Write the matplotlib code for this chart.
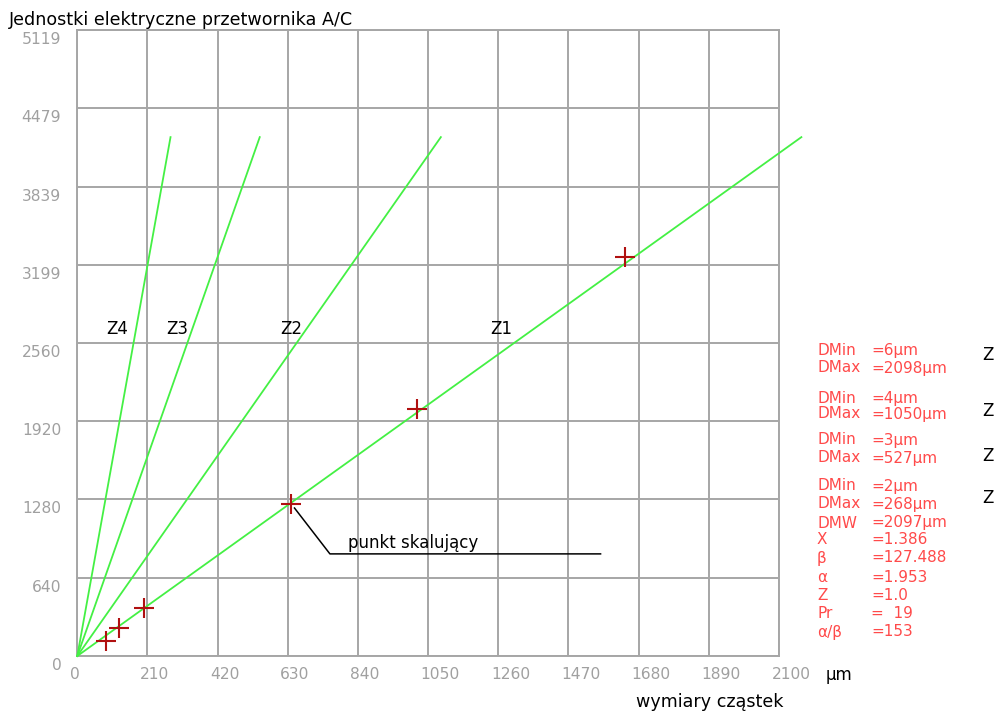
import matplotlib
matplotlib.use('Agg')
import matplotlib.pyplot as plt
import matplotlib.transforms as mtransforms

# axis ticks
x_ticks = [0, 210, 420, 630, 840, 1050, 1260, 1470, 1680, 1890, 2100]
y_ticks = [0, 640, 1280, 1920, 2560, 3199, 3839, 4479, 5119]

# calibration lines Z1..Z4 (start and end points)
line_names = ['Z1', 'Z2', 'Z3', 'Z4']
line_x = [[0, 2167], [0, 1088], [0, 546], [0, 279]]
line_y = [[0, 4243], [0, 4243], [0, 4243], [0, 4243]]
label_x = [1270, 639, 298, 119]

# measured points (red crosses)
pts_x = [86, 125, 200, 640, 1017, 1638]
pts_y = [125, 230, 390, 1240, 2021, 3263]

# leader for "punkt skalujący"
lead_x = [650, 756, 1566]
lead_y = [1210, 835, 835]

# parameter box on the right
param_names = ['DMin', 'DMax', 'DMin', 'DMax', 'DMin', 'DMax', 'DMin', 'DMax',
               'DMW', 'X', 'β', 'α', 'Z', 'Pr', 'α/β']
param_values = ['=6µm', '=2098µm', '=4µm', '=1050µm', '=3µm', '=527µm', '=2µm',
                '=268µm', '=2097µm', '=1.386', '=127.488', '=1.953', '=1.0',
                '=  19', '=153']
param_ypix = [351, 368, 398, 414, 440, 458, 486, 504, 523, 540, 558, 577, 595, 613, 632]
side_z_ypix = [355, 411, 456, 498]

W, H = 997, 713
grid_col = '#a6a6a6'
green = '#44f044'
red_txt = '#ff4a4a'

fig = plt.figure(figsize=(W / 100, H / 100), dpi=100)
fig.patch.set_facecolor('white')
ax = fig.add_axes([77.3 / W, 1 - 656 / H, (779 - 77.3) / W, (656 - 30) / H])

ax.set_xlim(0, 2100)
ax.set_ylim(0, 5119)
ax.set_xticks(x_ticks)
ax.set_yticks(y_ticks)
ax.tick_params(length=0, colors='#a0a0a0', labelsize=11.2)
ax.tick_params(axis='x', pad=8)
ax.tick_params(axis='y', pad=11.5)
ax.grid(True, color=grid_col, linewidth=1.4)
for s in ax.spines.values():
    s.set_color(grid_col)
    s.set_linewidth(1.4)
ax.set_axisbelow(True)

# tick labels in the original sit a bit right of / below their grid lines
x_off = mtransforms.ScaledTranslation(-7.5 / 100, 0, fig.dpi_scale_trans)
for lab in ax.get_xticklabels():
    lab.set_horizontalalignment('left')
    lab.set_transform(lab.get_transform() + x_off)
y_off = mtransforms.ScaledTranslation(0, -8 / 100, fig.dpi_scale_trans)
for lab in ax.get_yticklabels():
    lab.set_transform(lab.get_transform() + y_off)

for i, name in enumerate(line_names):
    ax.plot(line_x[i], line_y[i], color=green, linewidth=1.3, clip_on=False, zorder=3)
    ax.text(label_x[i], 2600, name, ha='center', va='bottom', fontsize=12, color='black')

ax.plot(pts_x, pts_y, linestyle='none', marker='+', markersize=15, markeredgewidth=1.5,
        color='#b01010', zorder=4)

ax.plot(lead_x, lead_y, color='black', linewidth=1.1, zorder=3)
ax.text(809, 884, 'punkt skalujący', ha='left', va='baseline', fontsize=12)

# titles / axis captions
fig.text(9 / W, 1 - 20 / H, 'Jednostki elektryczne przetwornika A/C', ha='left',
         va='center', fontsize=12.6)
fig.text(826 / W, 1 - 675 / H, 'µm', ha='left', va='center', fontsize=12)
fig.text(636 / W, 1 - 702 / H, 'wymiary cząstek', ha='left', va='center', fontsize=12.6)

for name, val, yp in zip(param_names, param_values, param_ypix):
    fig.text(817 / W, 1 - yp / H, name, ha='left', va='center', fontsize=11,
             color=red_txt)
    fig.text(871 / W, 1 - yp / H, val, ha='left', va='center', fontsize=11,
             color=red_txt)

# the right-hand "Z" markers are cut off by the picture edge in the original
for yp in side_z_ypix:
    fig.text(982 / W, 1 - yp / H, 'Z', ha='left', va='center', fontsize=12)

fig.savefig('out.png', dpi=100)
